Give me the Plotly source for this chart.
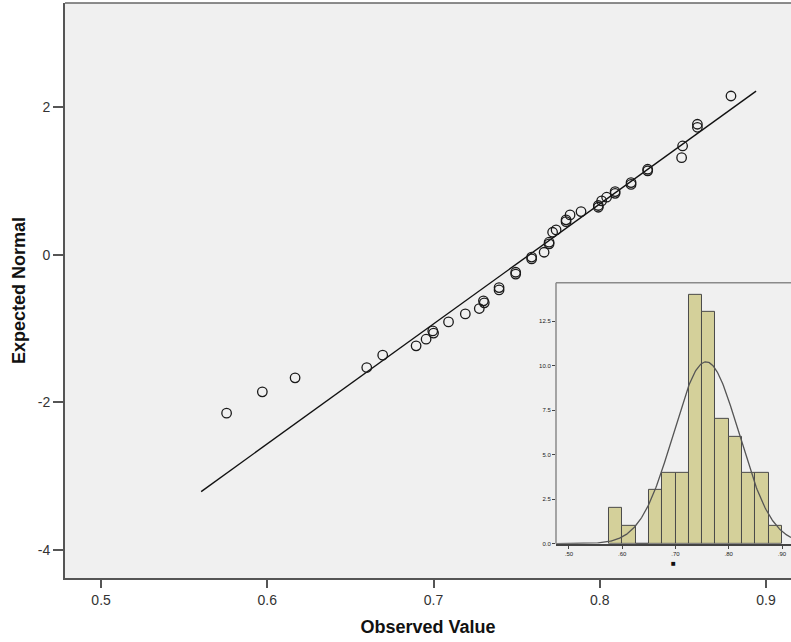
import numpy as np
import plotly.graph_objects as go

# Normal Q-Q plot: observed values against expected normal scores
observed_value = [0.5755, 0.597, 0.6167, 0.6598, 0.6694, 0.6895, 0.6955, 0.6995,
                  0.7000, 0.709, 0.7191, 0.7275, 0.730, 0.7305, 0.7394, 0.7394,
                  0.7494, 0.7494, 0.759, 0.759, 0.7665, 0.7695, 0.7695, 0.7716,
                  0.7737, 0.7797, 0.7797, 0.7821, 0.7887, 0.7991, 0.7991, 0.8011,
                  0.8041, 0.8092, 0.8092, 0.8188, 0.8188, 0.8288, 0.8288, 0.8492,
                  0.8498, 0.8587, 0.8587, 0.8789]
expected_normal = [-2.145, -1.856, -1.667, -1.527, -1.359, -1.233, -1.143, -1.03,
                   -1.06, -0.908, -0.80, -0.727, -0.623, -0.65, -0.443, -0.475,
                   -0.235, -0.26, -0.054, -0.03, 0.036, 0.172, 0.15, 0.307,
                   0.339, 0.451, 0.475, 0.542, 0.587, 0.646, 0.67, 0.732,
                   0.782, 0.858, 0.835, 0.98, 0.955, 1.161, 1.14, 1.318,
                   1.477, 1.771, 1.73, 2.154]

# Fitted normal parameters (reference line and density curve)
fit_mean = 0.7575
fit_sd = 0.0615
n_cases = 63
line_x = [0.5602, 0.894]

# Histogram of the same variable (inset)
bin_width = 0.025
bin_lefts = [0.575, 0.600, 0.625, 0.650, 0.675, 0.700, 0.725,
             0.750, 0.775, 0.800, 0.825, 0.850, 0.875]
bin_counts = [2, 1, 0, 3, 4, 4, 14, 13, 7, 6, 4, 4, 1]

x_ticks = [0.5, 0.6, 0.7, 0.8, 0.9]
y_ticks = [-4, -2, 0, 2]
inset_x_ticks = [0.5, 0.6, 0.7, 0.8, 0.9]
inset_x_labels = ['.50', '.60', '.70', '.80', '.90']
inset_y_ticks = [0, 2.5, 5, 7.5, 10, 12.5]
inset_y_labels = ['0.0', '2.5', '5.0', '7.5', '10.0', '12.5']

TICK_FONT = dict(family='Liberation Sans, Arial', size=14, color='#333333')
TITLE_FONT = dict(family='Liberation Sans, Arial', size=18, color='#111111', weight=700)

fig = go.Figure()

line_y = [(v - fit_mean) / fit_sd for v in line_x]
fig.add_trace(go.Scatter(x=line_x, y=line_y, mode='lines',
                         line=dict(color='#111111', width=1.4),
                         xaxis='x', yaxis='y', hoverinfo='skip'))

fig.add_trace(go.Scatter(x=observed_value, y=expected_normal, mode='markers',
                         marker=dict(symbol='circle-open', size=9.5, color='#1a1a1a',
                                     line=dict(width=1.3)),
                         xaxis='x', yaxis='y'))

# Inset histogram with normal curve
bar_centers = [b + bin_width / 2 for b in bin_lefts]
fig.add_trace(go.Bar(x=bar_centers, y=bin_counts, width=bin_width,
                     marker=dict(color='#d4d09a', line=dict(color='#4a4a4a', width=1)),
                     xaxis='x2', yaxis='y2'))

curve_x = np.linspace(0.4756, 0.9169, 300)
curve_y = n_cases * bin_width * np.exp(-0.5 * ((curve_x - fit_mean) / fit_sd) ** 2) / (fit_sd * np.sqrt(2 * np.pi))
fig.add_trace(go.Scatter(x=curve_x, y=curve_y, mode='lines',
                         line=dict(color='#555555', width=1.3),
                         xaxis='x2', yaxis='y2', hoverinfo='skip'))

fig.update_layout(
    width=791, height=642,
    margin=dict(l=65, r=0, t=3, b=64),
    paper_bgcolor='white',
    plot_bgcolor='#f0f0f0',
    showlegend=False,
    bargap=0,
    xaxis=dict(domain=[0, 1], range=[0.4783, 0.915], tickvals=x_ticks,
               ticktext=[f'{v:.1f}' for v in x_ticks],
               showline=True, linecolor='#555555', linewidth=2,
               ticks='outside', ticklen=8, tickwidth=2, tickcolor='#555555',
               showgrid=False, zeroline=False, tickfont=TICK_FONT,
               title=dict(text='Observed Value', font=TITLE_FONT, standoff=14)),
    yaxis=dict(domain=[0, 1], range=[-4.38, 3.415], tickvals=y_ticks,
               ticktext=[str(v) for v in y_ticks],
               showline=True, linecolor='#555555', linewidth=2,
               ticks='outside', ticklen=10, tickwidth=2, tickcolor='#555555',
               showgrid=False, zeroline=False, tickfont=TICK_FONT,
               title=dict(text='Expected Normal', font=TITLE_FONT, standoff=7)),
    xaxis2=dict(domain=[0.6763, 1], anchor='y2', range=[0.4756, 0.9169],
                tickvals=inset_x_ticks, ticktext=inset_x_labels,
                showline=True, linecolor='#444444', linewidth=2,
                ticks='outside', ticklen=3, tickwidth=1, tickcolor='#444444',
                showgrid=False, zeroline=False,
                tickfont=dict(family='Liberation Sans, Arial', size=6, color='#222222'),
                title=dict(text='■', font=dict(size=8, color='#111111'), standoff=2)),
    yaxis2=dict(domain=[0.0596, 0.5133], anchor='x2', range=[0, 14.65],
                tickvals=inset_y_ticks, ticktext=inset_y_labels,
                showline=False,
                ticks='outside', ticklen=3, tickwidth=1, tickcolor='#444444',
                showgrid=False, zeroline=False,
                tickfont=dict(family='Liberation Sans, Arial', size=6, color='#222222')),
    shapes=[
        # top border of main plot
        dict(type='line', xref='paper', yref='paper', x0=0, x1=1, y0=1, y1=1,
             line=dict(color='#666666', width=1.5)),
        # inset frame (left and top)
        dict(type='line', xref='x2 domain', yref='y2 domain', x0=0, x1=0, y0=0, y1=1,
             line=dict(color='#8a8a8a', width=1.5)),
        dict(type='line', xref='x2 domain', yref='y2 domain', x0=0, x1=1, y0=1, y1=1,
             line=dict(color='#8a8a8a', width=1.5)),
    ],
)

fig.write_html('out.html')
